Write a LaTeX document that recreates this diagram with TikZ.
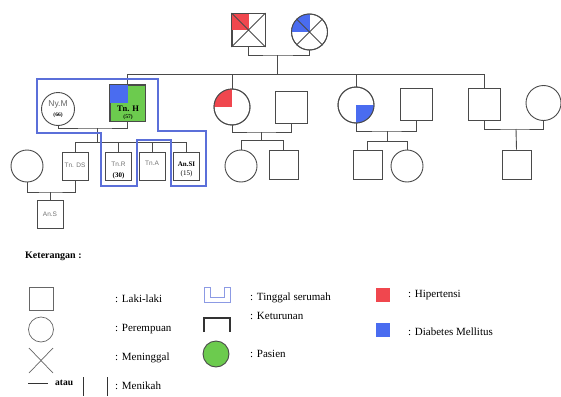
\documentclass[tikz,border=0pt]{standalone}
\usepackage{fontspec}
\setmainfont{Liberation Serif}
\setsansfont{Liberation Sans}
\definecolor{hred}{HTML}{F0474E}
\definecolor{dmblue}{HTML}{4A6CF0}
\definecolor{pgreen}{HTML}{6CCB4E}
\definecolor{hhblue}{HTML}{5B6FD9}
\definecolor{lgray}{HTML}{4A4A4A}
\begin{document}
\begin{tikzpicture}[x=1pt,y=-1pt,
  lc/.style={draw=lgray, line width=0.9pt},
  sqbox/.style={lc, rectangle, fill=white, inner sep=0pt, minimum width=#1, minimum height=#1},
  kidbox/.style={lc, rectangle, fill=white, inner sep=0pt, minimum width=26pt, minimum height=28pt},
  fcirc/.style={lc, circle, fill=white, inner sep=0pt, minimum size=#1},
  glab/.style={font=\sffamily\fontsize{6.5}{7}\selectfont, text=black!55, inner sep=0pt},
  blab/.style={font=\bfseries\fontsize{#1}{#1}\selectfont, inner sep=0pt},
  leg/.style={font=\fontsize{11}{13}\selectfont, anchor=west, inner sep=0pt},
  hh/.style={draw=hhblue, line width=1.1pt}
]
\useasboundingbox (0,0) rectangle (561,396);

% ---------- generation 1 ----------
\node[sqbox=33pt] (gf) at (248.5,30) {};
\node[fcirc=36pt] (gm) at (309.5,32) {};
\fill[hred] (gf.north west) rectangle (gf.center);
\draw[lc] (gf.north west) rectangle (gf.south east);
\draw[lc] (gf.north west) -- (gf.south east) (gf.north east) -- (gf.south west);
\begin{scope}
  \clip (309.5,32) circle[radius=18pt];
  \fill[dmblue] (309.5,32) rectangle ++(-20,-20);
\end{scope}
\draw[lc] (gm.north west) -- (gm.south east) (gm.north east) -- (gm.south west);
\draw[lc] (309.5,32) circle[radius=18pt];

\coordinate (m1) at (277,55);
\coordinate (s1) at (277,74);
\draw[lc] (gf.south) |- (m1) -| (gm.south);
\draw[lc] (m1) -- (s1);

% ---------- generation 2 ----------
\node[fcirc=33pt] (nym) at (58,109) {};
\node[lc, rectangle, fill=pgreen, inner sep=0pt, minimum width=35pt, minimum height=36pt] (tnh) at (127.5,103) {};
\fill[dmblue] (tnh.north west) rectangle (tnh.center);
\draw[lc] (tnh.north west) rectangle (tnh.south east);

\node[fcirc=36pt] (rf) at (232,107) {};
\begin{scope}
  \clip (232,107) circle[radius=18pt];
  \fill[hred] (232,107) rectangle ++(-20,-20);
\end{scope}
\draw[lc] (232,107) circle[radius=18pt];
\node[sqbox=32pt] (rm) at (291,107.5) {};

\node[fcirc=36pt] (bf) at (356,105) {};
\begin{scope}
  \clip (356,105) circle[radius=18pt];
  \fill[dmblue] (356,105) rectangle ++(20,20);
\end{scope}
\draw[lc] (356,105) circle[radius=18pt];
\node[sqbox=32pt] (bm) at (416,104.5) {};

\node[sqbox=32pt] (m3) at (484,104) {};
\node[fcirc=35pt] (f3) at (543.5,103) {};

\draw[lc] (s1) -| (tnh.north);
\draw[lc] (s1) -| (rf.north);
\draw[lc] (s1) -| (bf.north);
\draw[lc] (s1) -| (m3.north);

% ---------- generation 3 ----------
\node[kidbox] (tnds) at (75,166) {};
\node[kidbox] (tnr) at (118.5,166) {};
\node[kidbox] (tna) at (152,166) {};
\node[kidbox] (ansi) at (186.5,166) {};
\node[fcirc=32pt] (sp) at (27,166) {};

\coordinate (m2) at (97,128);
\coordinate (c2) at (97,142);
\draw[lc] (nym.south) |- (m2) -| (tnh.south);
\draw[lc] (m2) -- (c2);
\draw[lc] (c2) -| (tnds.north);
\draw[lc] (c2) -| (tnr.north);
\draw[lc] (c2) -| (tna.north);
\draw[lc] (c2) -| (ansi.north);

\node[fcirc=32pt] (rc1) at (241,166) {};
\node[sqbox=29pt] (rc2) at (283.5,165) {};
\coordinate (m4) at (261,132);
\coordinate (c4) at (261,140);
\draw[lc] (rf.south) |- (m4) -| (rm.south);
\draw[lc] (m4) -- (c4);
\draw[lc] (c4) -| (rc1.north);
\draw[lc] (c4) -| (rc2.north);

\node[sqbox=29pt] (bc1) at (367.5,165) {};
\node[fcirc=32pt] (bc2) at (407,166) {};
\coordinate (m5) at (387,131);
\coordinate (c5) at (387,141);
\draw[lc] (bf.south) |- (m5) -| (bm.south);
\draw[lc] (m5) -- (c5);
\draw[lc] (c5) -| (bc1.north);
\draw[lc] (c5) -| (bc2.north);

\node[sqbox=29pt] (rc3) at (516.5,164.5) {};
\coordinate (m6) at (516,129);
\draw[lc] (m3.south) |- (m6) -| (f3.south);
\draw[lc] (m6) -- (rc3.north);

% ---------- generation 4 ----------
\node[lc, rectangle, fill=white, inner sep=0pt, minimum width=26pt, minimum height=28pt] (ans) at (50,214) {};
\coordinate (m7) at (50,192);
\draw[lc] (sp.south) |- (m7) -| (tnds.south);
\draw[lc] (m7) -- (ans.north);

% ---------- labels ----------
\node[font=\sffamily\fontsize{8.5}{9}\selectfont, text=black!60, inner sep=0pt] (lnym) at (58,104.5) {Ny.M};
\node[blab=5.5] (lnym2) at (58,115) {(66)};
\node[blab=8.5] (ltnh) at (128,109) {Tn. H};
\node[blab=5.5] (ltnh2) at (128,117.5) {(57)};
\node[glab] (ltnds) at (75,165) {Tn. DS};
\node[glab] (ltnr) at (118.5,164) {Tn.R};
\node[blab=7] (ltnr2) at (118.5,176) {(30)};
\node[glab] (ltna) at (152,163) {Tn.A};
\node[blab=7] (lansi) at (186.5,164.5) {An.SI};
\node[font=\fontsize{7}{7}\selectfont, inner sep=0pt] (lansi2) at (186.5,173.5) {(15)};
\node[glab] (lans) at (50,214) {An.S};

% ---------- household outline ----------
\draw[hh] (37,79) -- (158,79) -- (158,131) -- (206,131) -- (206,186) -- (171,186)
  -- (171,140) -- (137,140) -- (137,186) -- (101,186) -- (101,133) -- (37,133) -- cycle;

% ---------- legend ----------
\node[font=\bfseries\fontsize{10}{12}\selectfont, anchor=west, inner sep=0pt] (ket) at (25,256) {Keterangan :};

\node[lc, draw=black!60, line width=0.7pt, rectangle, inner sep=0pt, minimum width=24pt, minimum height=23pt] (lsq) at (41,298.5) {};
\node[leg] (tsq) at (115,299) {: Laki-laki};
\node[lc, draw=black!60, line width=0.7pt, circle, inner sep=0pt, minimum size=25pt] (lci) at (41,329.5) {};
\node[leg] (tci) at (115,329) {: Perempuan};
\coordinate (x1) at (29,348);
\coordinate (x2) at (53,373);
\draw[draw=black!60, line width=0.7pt] (x1) -- (x2) (29,373) -- (53,348);
\node[leg] (tx) at (115,358) {: Meninggal};

\coordinate (ml1) at (28,383);
\coordinate (ml2) at (48,383);
\draw[draw=black!80, line width=1pt] (ml1) -- (ml2);
\node[font=\bfseries\fontsize{9.5}{10}\selectfont, anchor=west, inner sep=0pt] (atau) at (55,383) {atau};
\draw[draw=black!80, line width=1pt] (83,377) -- (83,396) (107,377) -- (107,396);
\node[leg] (tmen) at (115,386) {: Menikah};

\draw[draw=hhblue!70, line width=1pt] (204,287) -- (210,287) -- (210,297) -- (224,297) -- (224,287)
  -- (230,287) -- (230,302) -- (204,302) -- cycle;
\node[leg] (thh) at (250,298) {: Tinggal serumah};
\draw[draw=black!80, line width=1.1pt] (204,332) -- (204,318) -- (230,318) -- (230,332);
\node[leg] (tket) at (250,316) {: Keturunan};
\node[lc, circle, fill=pgreen, inner sep=0pt, minimum size=26pt] (lpas) at (216,354) {};
\node[leg] (tpas) at (250,354) {: Pasien};

\fill[hred] (376,288) rectangle (390,302);
\node[leg] (thip) at (408,295) {: Hipertensi};
\fill[dmblue] (376,323) rectangle (390,337);
\node[leg] (tdm) at (408,332) {: Diabetes Mellitus};
\end{tikzpicture}
\end{document}
